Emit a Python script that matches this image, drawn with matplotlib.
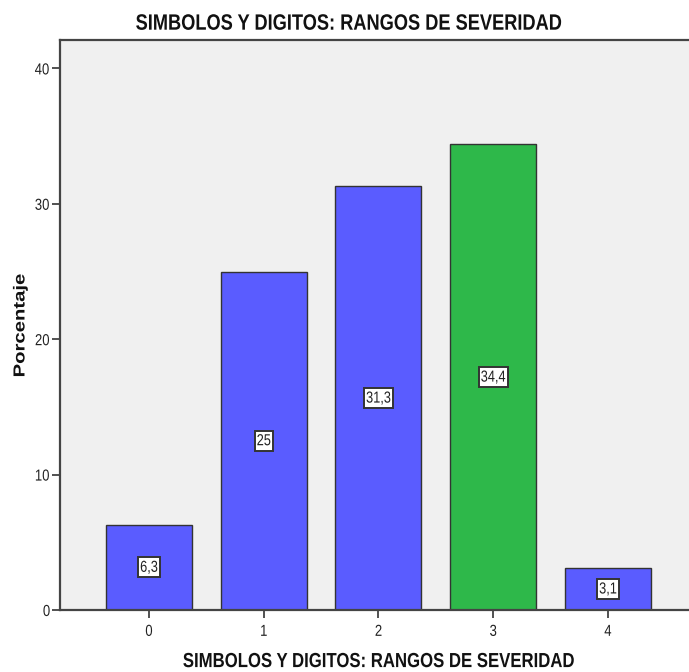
import matplotlib.pyplot as plt
from matplotlib.patheffects import AbstractPathEffect
from matplotlib.transforms import Affine2D

# data
categories = ['0', '1', '2', '3', '4']
percentages = [6.3, 25.0, 31.3, 34.4, 3.1]
value_labels = ['6,3', '25', '31,3', '34,4', '3,1']
bar_colors = ['#5A5CFF', '#5A5CFF', '#5A5CFF', '#2EB84A', '#5A5CFF']
y_ticks = [0, 10, 20, 30, 40]

title = 'SIMBOLOS Y DIGITOS: RANGOS DE SEVERIDAD'
y_title = 'Porcentaje'


class Stretch(AbstractPathEffect):
    """Squeeze (or widen) glyphs along the text baseline, like Arial Narrow."""

    def __init__(self, sx):
        super().__init__()
        self.sx = sx

    def draw_path(self, renderer, gc, tpath, affine, rgbFace=None):
        ext = tpath.get_extents()
        cx = (ext.x0 + ext.x1) / 2
        squeeze = Affine2D().translate(-cx, 0).scale(self.sx, 1).translate(cx, 0)
        renderer.draw_path(gc, tpath, squeeze + affine, rgbFace)


narrow = [Stretch(0.82)]
FONT = 'Liberation Sans'
plt.rcParams['font.family'] = FONT

fig = plt.figure(figsize=(6.89, 6.72), dpi=100)
ax = fig.add_axes([0.0871, 0.0923, 0.9129, 0.8482])
ax.set_facecolor('#F0F0F0')

x = list(range(len(categories)))
ax.bar(x, percentages, width=0.75, color=bar_colors, edgecolor='#333333', linewidth=1.0, zorder=2)

for xi, v, lab in zip(x, percentages, value_labels):
    t = ax.text(xi, v / 2, lab, ha='center', va='center', fontsize=11.5, color='#222222',
                path_effects=[Stretch(0.8)],
                bbox=dict(boxstyle='square,pad=0.16', facecolor='white', edgecolor='#333333', linewidth=1.4),
                zorder=3)
    t.get_bbox_patch().set_path_effects([Stretch(0.8)])

ax.set_xlim(-0.775, 4.706)
ax.set_ylim(0, 42.1)
ax.set_xticks(x)
ax.set_xticklabels(categories, fontsize=11.5)
ax.set_yticks(y_ticks)
ax.set_yticklabels([str(t) for t in y_ticks], fontsize=11.5)
ax.tick_params(axis='both', direction='out', length=6, width=1.2, color='#333333', labelcolor='#222222')
ax.tick_params(axis='y', pad=0.5)
ax.tick_params(axis='x', pad=4)
for lbl in ax.get_xticklabels() + ax.get_yticklabels():
    lbl.set_path_effects(narrow)

for side in ['left', 'top', 'bottom']:
    ax.spines[side].set_color('#444444')
    ax.spines[side].set_linewidth(1.6)
ax.spines['right'].set_visible(False)

fig.text(0.5065, 0.964, title, ha='center', va='center', fontsize=16, fontweight='bold',
         color='#111111', path_effects=narrow)
fig.text(0.549, 0.0155, title, ha='center', va='center', fontsize=14.7, fontweight='bold',
         color='#111111', path_effects=narrow)
fig.text(0.029, 0.516, y_title, ha='center', va='center', rotation=90, fontsize=11.5,
         fontweight='bold', color='#111111', path_effects=[Stretch(1.27)])

plt.savefig('out.png', dpi=100)
plt.close()
